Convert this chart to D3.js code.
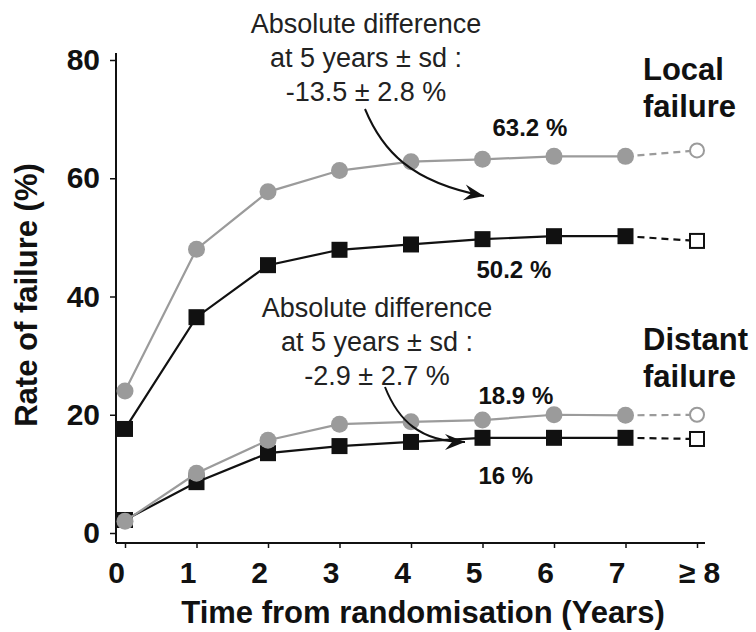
<!DOCTYPE html>
<html>
<head>
<meta charset="utf-8">
<script src="https://cdn.jsdelivr.net/npm/d3@7"></script>
<style>
  html, body { margin: 0; padding: 0; background: #fff; }
  svg { display: block; }
</style>
</head>
<body>
<svg id="chart" width="756" height="632"></svg>
<script>
// Local and distant failure rates by year from randomisation.
// Index 8 is the "≥ 8" column (drawn open, joined by a dashed segment).

const xLabels = ["0", "1", "2", "3", "4", "5", "6", "7", "\u2265 8"];
const yTicks  = [0, 20, 40, 60, 80];

const localControl   = [24.0, 48.0, 57.7, 61.3, 62.8, 63.2, 63.7, 63.7, 64.7];
const localTreated   = [17.6, 36.5, 45.3, 47.9, 48.8, 49.7, 50.2, 50.2, 49.4];
const distantControl = [2.0, 10.1, 15.7, 18.4, 18.8, 19.1, 20.0, 19.9, 20.0];
const distantTreated = [2.2, 8.6, 13.5, 14.7, 15.4, 16.1, 16.1, 16.1, 15.9];

const FONT  = "Liberation Sans, Arial, Helvetica, sans-serif";
const GREY  = "#9b9b9b";
const BLACK = "#111111";

const svg = d3.select("#chart");

const x = d3.scaleLinear().domain([0, 8]).range([125, 697]);
const y = d3.scaleLinear().domain([0, 80]).range([533, 60]);

const AXIS_X = 116;   // y axis position
const AXIS_Y = 543;   // x axis position

// ---- axes ------------------------------------------------------------------

const yAxis = svg.append("g")
  .attr("transform", `translate(${AXIS_X},0)`)
  .call(d3.axisLeft(y).tickValues(yTicks).tickSize(6).tickPadding(10).tickSizeOuter(0));
yAxis.select(".domain").remove();
yAxis.selectAll("line").attr("stroke", BLACK).attr("stroke-width", 1.5);
yAxis.selectAll("text")
  .attr("font-family", FONT).attr("font-size", 30).attr("font-weight", "bold")
  .attr("fill", BLACK);

const xAxis = svg.append("g")
  .attr("transform", `translate(0,${AXIS_Y})`)
  .call(d3.axisBottom(x).tickValues(d3.range(9)).tickFormat(i => xLabels[i])
    .tickSize(5).tickPadding(14).tickSizeOuter(0));
xAxis.select(".domain").remove();
xAxis.selectAll("line").attr("stroke", BLACK).attr("stroke-width", 1.5);
xAxis.selectAll("text")
  .attr("font-family", FONT).attr("font-size", 30).attr("font-weight", "bold")
  .attr("fill", BLACK)
  .attr("dx", i => i === 8 ? 2 : -9);

svg.append("line")
  .attr("x1", AXIS_X).attr("y1", 53).attr("x2", AXIS_X).attr("y2", AXIS_Y)
  .attr("stroke", BLACK).attr("stroke-width", 2);
svg.append("line")
  .attr("x1", AXIS_X).attr("y1", AXIS_Y).attr("x2", 705).attr("y2", AXIS_Y)
  .attr("stroke", BLACK).attr("stroke-width", 2);

svg.append("text")
  .attr("transform", "rotate(-90)")
  .attr("x", -295).attr("y", 37)
  .attr("text-anchor", "middle")
  .attr("font-family", FONT).attr("font-size", 31).attr("font-weight", "bold")
  .attr("fill", BLACK)
  .text("Rate of failure (%)");

svg.append("text")
  .attr("x", 423).attr("y", 623)
  .attr("text-anchor", "middle")
  .attr("font-family", FONT).attr("font-size", 31).attr("font-weight", "bold")
  .attr("fill", BLACK)
  .text("Time from randomisation (Years)");

// ---- series ----------------------------------------------------------------

const series = [
  { values: localTreated,   color: BLACK, shape: "square" },
  { values: localControl,   color: GREY,  shape: "circle" },
  { values: distantTreated, color: BLACK, shape: "square" },
  { values: distantControl, color: GREY,  shape: "circle" },
];

const line = d3.line().x((d, i) => x(i)).y(d => y(d));
const SQ = 16;   // square side
const R  = 8.5;  // circle radius

series.forEach(s => {
  const g = svg.append("g");
  const solid = s.values.slice(0, 8);

  g.append("path")
    .attr("d", line(solid))
    .attr("fill", "none")
    .attr("stroke", s.color)
    .attr("stroke-width", 2.2);

  // Dashed link from year 7 to the ≥ 8 column.
  g.append("line")
    .attr("x1", x(7)).attr("y1", y(s.values[7]))
    .attr("x2", x(8)).attr("y2", y(s.values[8]))
    .attr("stroke", s.color)
    .attr("stroke-width", 2.2)
    .attr("stroke-dasharray", "7,5");

  if (s.shape === "square") {
    g.selectAll(".pt").data(solid).join("rect")
      .attr("x", (d, i) => x(i) - SQ / 2).attr("y", d => y(d) - SQ / 2)
      .attr("width", SQ).attr("height", SQ)
      .attr("fill", s.color);
    g.append("rect")
      .attr("x", x(8) - 7).attr("y", y(s.values[8]) - 7)
      .attr("width", 14).attr("height", 14)
      .attr("fill", "#fff").attr("stroke", s.color).attr("stroke-width", 2);
  } else {
    g.selectAll(".pt").data(solid).join("circle")
      .attr("cx", (d, i) => x(i)).attr("cy", d => y(d))
      .attr("r", R)
      .attr("fill", s.color);
    g.append("circle")
      .attr("cx", x(8)).attr("cy", y(s.values[8]))
      .attr("r", 7)
      .attr("fill", "#fff").attr("stroke", s.color).attr("stroke-width", 2);
  }
});

// ---- value labels at 5 years -------------------------------------------------

const valueLabels = ["63.2 %", "50.2 %", "18.9 %", "16 %"];
const valueSeries = [localControl, localTreated, distantControl, distantTreated];
const valueOffsets = [[10, -23], [-6, 39], [-4, -16], [-4, 46]];

valueLabels.forEach((t, k) => {
  svg.append("text")
    .attr("x", x(5) + valueOffsets[k][0])
    .attr("y", y(valueSeries[k][5]) + valueOffsets[k][1])
    .attr("font-family", FONT).attr("font-size", 24).attr("font-weight", "bold")
    .attr("fill", BLACK)
    .text(t);
});

// ---- group titles ----------------------------------------------------------

[["Local", 80], ["failure", 117], ["Distant", 350], ["failure", 387]].forEach(([t, by]) => {
  svg.append("text")
    .attr("x", 643).attr("y", by)
    .attr("font-family", FONT).attr("font-size", 31).attr("font-weight", "bold")
    .attr("fill", BLACK)
    .text(t);
});

// ---- difference annotations with curved arrows -------------------------------

svg.append("defs").append("marker")
  .attr("id", "head")
  .attr("viewBox", "-22 -10 24 20")
  .attr("markerUnits", "userSpaceOnUse")
  .attr("markerWidth", 24).attr("markerHeight", 20)
  .attr("refX", 0).attr("refY", 0)
  .attr("orient", "auto")
  .append("path")
  .attr("d", "M-20,-8 L0,0 L-20,8 L-13,0 Z")
  .attr("fill", BLACK);

const notes = [
  { lines: ["Absolute difference", "at 5 years \u00b1 sd :", "-13.5 \u00b1 2.8 %"],
    cx: 366, top: 33, arrow: "M365,109 C382,150 410,182 484,196" },
  { lines: ["Absolute difference", "at 5 years \u00b1 sd :", "-2.9 \u00b1 2.7 %"],
    cx: 377, top: 317, arrow: "M385,387 C398,420 420,442 465,442" },
];

notes.forEach(n => {
  n.lines.forEach((t, i) => {
    svg.append("text")
      .attr("x", n.cx).attr("y", n.top + i * 34)
      .attr("text-anchor", "middle")
      .attr("font-family", FONT).attr("font-size", 27)
      .attr("fill", "#222")
      .text(t);
  });
  svg.append("path")
    .attr("d", n.arrow)
    .attr("fill", "none")
    .attr("stroke", BLACK)
    .attr("stroke-width", 2)
    .attr("marker-end", "url(#head)");
});
</script>
</body>
</html>
